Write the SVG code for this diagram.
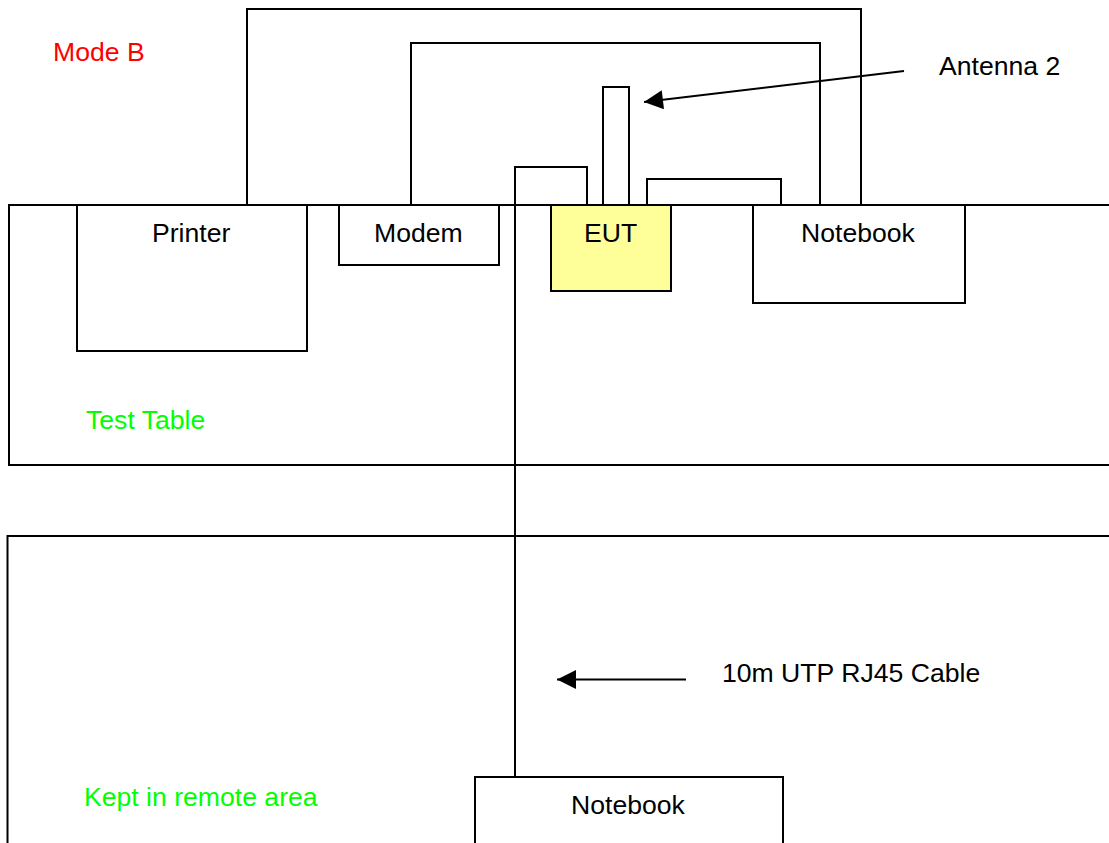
<svg xmlns="http://www.w3.org/2000/svg" width="1109" height="843" viewBox="0 0 1109 843">
<defs>
<style>
.box{fill:#fff;stroke:#000;stroke-width:2}
.area{fill:none;stroke:#000;stroke-width:2}
.wire{fill:none;stroke:#000;stroke-width:2}
.lbl{font-family:"Liberation Sans",Arial,sans-serif;font-size:26.6px;fill:#000}
.red{fill:#ff0000}
.green{fill:#00ff00}
</style>
<marker id="ah" viewBox="0 0 20 20" refX="20" refY="10" markerWidth="20" markerHeight="19" markerUnits="userSpaceOnUse" orient="auto">
<path d="M0,0 L20,10 L0,20 z" fill="#000"/>
</marker>
</defs>
<rect width="1109" height="843" fill="#fff"/>
<g id="test-table">
<rect class="area" x="9" y="205" width="1200" height="260"/>
<text class="lbl green" x="86" y="429">Test Table</text>
</g>
<g id="remote-area">
<rect class="area" x="7.5" y="536" width="1200" height="400"/>
<text class="lbl green" x="84" y="806">Kept in remote area</text>
</g>
<g id="title">
<text class="lbl red" x="53" y="61">Mode B</text>
</g>
<g id="connectors">
<path class="wire" d="M247,205 V9 H861 V205"/>
<path class="wire" d="M411,207 V43 H820 V205"/>
<path class="wire" d="M515,777 V167 H587 V205"/>
<path class="wire" d="M647,205 V179 H781 V205"/>
<line class="wire" x1="904" y1="71" x2="644" y2="102" marker-end="url(#ah)"/>
<line class="wire" x1="686" y1="679.5" x2="557" y2="679.5" marker-end="url(#ah)"/>
</g>
<g id="antenna">
<rect class="box" x="603" y="87" width="26" height="118"/>
</g>
<g id="printer">
<rect class="box" x="77" y="205" width="230" height="146"/>
<text class="lbl" x="152" y="242">Printer</text>
</g>
<g id="modem">
<rect class="box" x="339" y="205" width="160" height="60"/>
<text class="lbl" x="374" y="242">Modem</text>
</g>
<g id="eut">
<rect class="box" x="551" y="205" width="120" height="86" style="fill:#ffff99"/>
<text class="lbl" x="584" y="242">EUT</text>
</g>
<g id="notebook">
<rect class="box" x="753" y="205" width="212" height="98"/>
<text class="lbl" x="801" y="242">Notebook</text>
</g>
<g id="remote-notebook">
<rect class="box" x="475" y="777" width="308" height="100"/>
<text class="lbl" x="571" y="814">Notebook</text>
</g>
<g id="labels">
<text class="lbl" x="939" y="75">Antenna 2</text>
<text class="lbl" x="722" y="682">10m UTP RJ45 Cable</text>
</g>
</svg>
